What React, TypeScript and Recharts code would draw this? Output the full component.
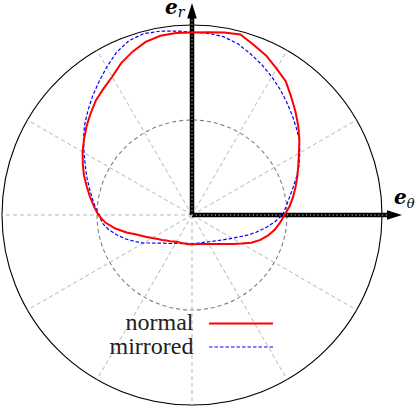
import React from 'react';
import { RadarChart, Radar, PolarGrid, PolarAngleAxis, PolarRadiusAxis, Customized } from 'recharts';

// polar angle (degrees, counter-clockwise from e_theta direction)
const angles = [
  0, 5, 10, 15, 20, 25, 30, 35, 40, 45, 50, 55, 60, 65, 70, 75, 80, 85,
  90, 95, 100, 105, 110, 115, 120, 125, 130, 135, 140, 145, 150, 155, 160, 165, 170, 175,
  180, 185, 190, 195, 200, 205, 210, 215, 220, 225, 230, 235, 240, 245, 250, 255, 260, 265,
  270, 275, 280, 285, 290, 295, 300, 305, 310, 315, 320, 325, 330, 335, 340, 345, 350, 355,
];

const normal = [
  0.487, 0.515, 0.54, 0.564, 0.59, 0.617, 0.65, 0.69, 0.73, 0.77, 0.812, 0.86, 0.89, 0.925, 0.952, 0.984, 0.975, 0.965,
  0.96, 0.961, 0.958, 0.943, 0.915, 0.882, 0.84, 0.812, 0.787, 0.755, 0.725, 0.694, 0.665, 0.634, 0.605, 0.573, 0.545, 0.518,
  0.493, 0.458, 0.41, 0.356, 0.305, 0.27, 0.243, 0.22, 0.205, 0.19, 0.18, 0.17, 0.162, 0.159, 0.157, 0.155, 0.155, 0.154,
  0.153, 0.154, 0.155, 0.158, 0.162, 0.168, 0.176, 0.186, 0.199, 0.216, 0.237, 0.265, 0.3, 0.345, 0.383, 0.415, 0.443, 0.465,
];

const mirrored = [
  0.477, 0.497, 0.52, 0.55, 0.585, 0.622, 0.655, 0.69, 0.716, 0.745, 0.775, 0.808, 0.84, 0.872, 0.902, 0.933, 0.953, 0.96,
  0.963, 0.972, 0.982, 0.988, 0.975, 0.943, 0.898, 0.855, 0.815, 0.775, 0.738, 0.697, 0.656, 0.62, 0.59, 0.56, 0.535, 0.512,
  0.488, 0.475, 0.445, 0.408, 0.37, 0.33, 0.295, 0.257, 0.23, 0.21, 0.196, 0.183, 0.173, 0.165, 0.16, 0.155, 0.152, 0.15,
  0.15, 0.15, 0.151, 0.152, 0.154, 0.158, 0.164, 0.17, 0.179, 0.19, 0.205, 0.222, 0.245, 0.272, 0.31, 0.35, 0.392, 0.435,
];

const gridAngles = [0, 30, 60, 90, 120, 150, 180, 210, 240, 270, 300, 330];
const ringValues = [0.5, 1];
const seriesNames = ['normal', 'mirrored'];

const data = angles.map((a, i) => ({ angle: a, normal: normal[i], mirrored: mirrored[i] }));

const W = 415;
const H = 409;
const CX = 192;
const CY = 215;
const R = 190;
// Recharts' band angle scale puts each category one band after its start; shift back by one step.
const STEP = 360 / angles.length;

const LABEL_FONT = 'DejaVu Serif';
const LEGEND_FONT = 'Liberation Serif';

const Decor = () => (
  <g>
    {/* e_r axis */}
    <line x1={CX} y1={CY} x2={CX} y2={17} stroke="#000" strokeWidth={4.5} />
    <line x1={CX} y1={CY} x2={CX} y2={17} stroke="#888" strokeWidth={1.4} strokeDasharray="1.2 2.6" />
    <polygon points={`${CX - 4.8},18.5 ${CX + 4.8},18.5 ${CX},3`} fill="#000" />
    {/* e_theta axis */}
    <line x1={CX} y1={CY} x2={388} y2={CY} stroke="#000" strokeWidth={4.5} />
    <line x1={CX} y1={CY} x2={388} y2={CY} stroke="#888" strokeWidth={1.4} strokeDasharray="1.2 2.6" />
    <polygon points={`387,${CY - 4.8} 387,${CY + 4.8} 402,${CY}`} fill="#000" />
    {/* axis labels */}
    <text x={165} y={14} fontFamily={LABEL_FONT} fill="#000">
      <tspan fontWeight="bold" fontStyle="italic" fontSize={20}>e</tspan>
      <tspan fontStyle="italic" fontSize={14} dy={3}>r</tspan>
    </text>
    <text x={394} y={203.5} fontFamily={LABEL_FONT} fill="#000">
      <tspan fontWeight="bold" fontStyle="italic" fontSize={20}>e</tspan>
      <tspan fontStyle="italic" fontSize={13} dy={4}>θ</tspan>
    </text>
    {/* legend */}
    <text x={193.5} y={329.5} textAnchor="end" fontFamily={LEGEND_FONT} fontSize={24} fill="#222">
      {seriesNames[0]}
    </text>
    <line x1={209} y1={323.5} x2={273} y2={323.5} stroke="#ff0000" strokeWidth={2} />
    <text x={193.5} y={353.5} textAnchor="end" fontFamily={LEGEND_FONT} fontSize={24} fill="#222">
      {seriesNames[1]}
    </text>
    <line x1={209} y1={347} x2={273} y2={347} stroke="#0000ff" strokeWidth={1.2} strokeDasharray="3.5 2" />
  </g>
);

export default function App() {
  return (
    <div style={{ position: 'absolute', left: 0, top: 0, width: W, height: H, background: '#fff' }}>
      <RadarChart
        width={W}
        height={H}
        data={data}
        cx={CX}
        cy={CY}
        innerRadius={0}
        outerRadius={R}
        startAngle={-STEP}
        endAngle={360 - STEP}
        margin={{ top: 0, right: 0, bottom: 0, left: 0 }}
      >
        <PolarGrid gridType="circle" polarRadius={[R]} radialLines={false} stroke="#000" strokeWidth={1.1} />
        <PolarGrid gridType="circle" polarRadius={[R * ringValues[0]]} radialLines={false} stroke="#808080" strokeWidth={1.1} strokeDasharray="4 3" />
        <PolarGrid gridType="circle" polarRadius={[]} polarAngles={gridAngles} radialLines stroke="#b5b5b5" strokeWidth={1} strokeDasharray="4 3" />
        <PolarAngleAxis dataKey="angle" tick={false} axisLine={false} tickLine={false} />
        <PolarRadiusAxis domain={[0, ringValues[1]]} type="number" tick={false} axisLine={false} tickLine={false} />
        <Radar
          name={seriesNames[1]}
          dataKey="mirrored"
          stroke="#0000ff"
          strokeWidth={1.2}
          strokeDasharray="3.5 2"
          fill="none"
          fillOpacity={0}
          dot={false}
          isAnimationActive={false}
        />
        <Radar
          name={seriesNames[0]}
          dataKey="normal"
          stroke="#ff0000"
          strokeWidth={2}
          fill="none"
          fillOpacity={0}
          dot={false}
          isAnimationActive={false}
        />
        <Customized component={Decor} />
      </RadarChart>
    </div>
  );
}
